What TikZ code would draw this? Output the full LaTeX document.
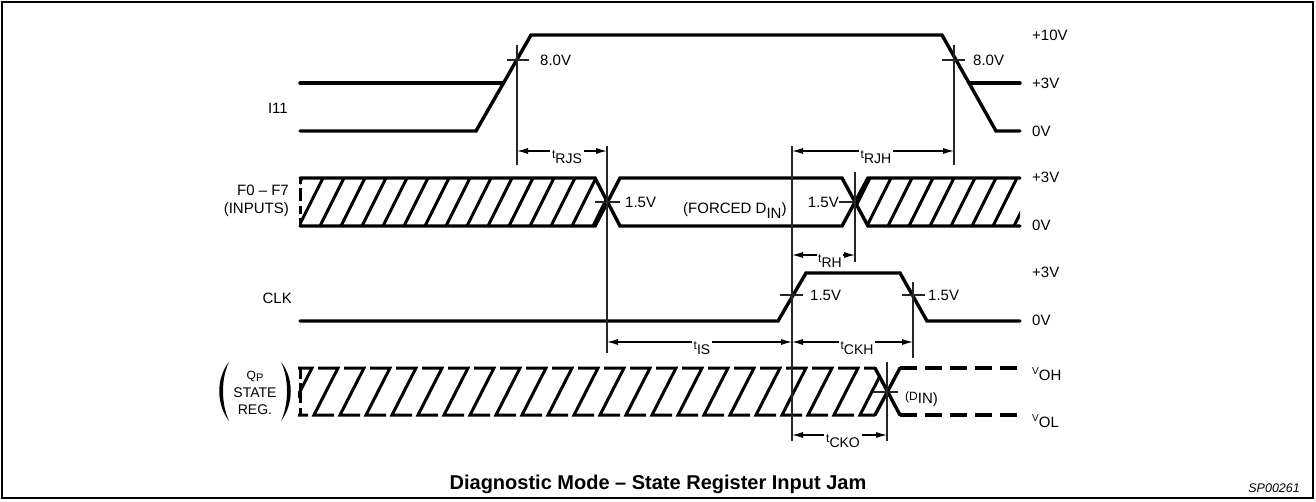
\documentclass[tikz,border=0pt]{standalone}
\usepackage{fontspec}
\setmainfont{Liberation Sans}
\usetikzlibrary{arrows.meta}
\newcommand{\tlab}[1]{{\fontsize{12}{12}\selectfont t}\raisebox{-4.5pt}{#1}}
\newcommand{\vlab}[1]{{\fontsize{10}{10}\selectfont\raisebox{6pt}{V}}#1}
\begin{document}
\begin{tikzpicture}[x=1pt,y=-1pt,
  sig/.style={line width=3.4pt,line cap=round,line join=miter},
  dsig/.style={line width=3.4pt,line cap=butt,dash pattern=on 17pt off 8pt},
  hatchln/.style={line width=3pt,line cap=butt,line join=miter},
  guide/.style={line width=1.1pt,black!85},
  dimarr/.style={line width=1.1pt,-{Latex[length=11pt,width=6pt]}},
  lbl/.style={font=\fontsize{15}{18.5}\selectfont,inner sep=0pt},
  tlbl/.style={font=\fontsize{14}{14}\selectfont,inner sep=1.5pt},
  vlbl/.style={lbl,anchor=west}]
\useasboundingbox (0,0) rectangle (1316,501);
\draw[line width=1.5pt] (2,2) rectangle (1313,498);

% ---------- I11 ----------
\draw[sig] (300,83) -- (503.5,83);
\draw[sig] (300,131) -- (476,131) -- (531,35) -- (942,35) -- (996,131) -- (1020,131);
\draw[sig] (969,83) -- (1020,83);
\node[lbl,anchor=east] (i11) at (288,108) {I11};
\draw[guide] (507,60) -- (529,60);
\draw[guide] (942,60) -- (965,60);
\node[vlbl] (v8a) at (540,60) {8.0V};
\node[vlbl] (v8b) at (973,60) {8.0V};
\node[vlbl] (p10) at (1032,35) {+10V};
\node[vlbl] (p3a) at (1032,83) {+3V};
\node[vlbl] (z0a) at (1032,131) {0V};

% ---------- F0-F7 ----------
\begin{scope}
  \clip (300,178) -- (595,178) -- (607.5,202) -- (595,226) -- (300,226) -- cycle;
  \foreach \k in {0,...,15} \draw[hatchln] ({278+21*\k},226) -- ++(24,-48);
\end{scope}
\begin{scope}
  \clip (855.5,202) -- (868,178) -- (1020,178) -- (1020,226) -- (868,226) -- cycle;
  \foreach \k in {0,...,8} \draw[hatchln] ({846+21*\k},226) -- ++(24,-48);
\end{scope}
\draw[sig] (300,178) -- (595,178) -- (620,226) -- (842,226) -- (868,178) -- (1020,178);
\draw[sig] (300,226) -- (595,226) -- (620,178) -- (842,178) -- (868,226) -- (1020,226);
\draw[hatchln] (300,177) -- (300,184) (300,188) -- (300,201) (300,206) -- (300,214) (300,218) -- (300,227);
\node[lbl,anchor=east,align=right] (flab) at (289,201) {F0 – F7\\(INPUTS)};
\draw[guide] (595,202) -- (620,202);
\node[vlbl] (v15a) at (625,202) {1.5V};
\node[lbl,anchor=east] (v15b) at (839,202) {1.5V};
\draw[guide] (v15b.east) -- (856,202);
\node[lbl,anchor=base west] (forced) at (683,213) {(FORCED D\raisebox{-5pt}{IN})};
\node[vlbl] (p3b) at (1032,177) {+3V};
\node[vlbl] (z0b) at (1032,225) {0V};

% ---------- CLK ----------
\draw[sig] (300,321) -- (778,321) -- (806,273) -- (900,273) -- (927,321) -- (1020,321);
\node[lbl,anchor=east] (clk) at (292,298) {CLK};
\draw[guide] (780,295) -- (803,295);
\draw[guide] (902,295) -- (925,295);
\node[vlbl] (v15c) at (810,295) {1.5V};
\node[vlbl] (v15d) at (928,295) {1.5V};
\node[vlbl] (p3c) at (1032,272) {+3V};
\node[vlbl] (z0c) at (1032,320) {0V};

% ---------- Qp ----------
\begin{scope}
  \clip (298,366) -- (874,366) -- (887.5,391.5) -- (874,417) -- (298,417) -- cycle;
  \foreach \k in {0,...,23} {
    \pgfmathsetmacro\xt{312+26*\k}
    \draw[hatchln] (\xt-20,368) -- (\xt,368) -- (\xt-24,415) -- (\xt-4,415);
  }
\end{scope}
\draw[hatchln] (300,367) -- (300,379) (300,383) -- (300,403) (300,408) -- (300,416);
\draw[sig] (875,368) -- (900,415);
\draw[sig] (875,415) -- (900,368);
\draw[dsig] (900,368) -- (1020,368);
\draw[dsig] (900,415) -- (1020,415);
\draw[guide] (873,392) -- (898,392);
\node[lbl,anchor=base west] (din) at (905,400) {{\fontsize{12}{12}\selectfont(D}\raisebox{-3pt}{IN)}};
\node[vlbl,anchor=base west] (voh) at (1032,380) {\vlab{OH}};
\node[vlbl,anchor=base west] (vol) at (1032,427) {\vlab{OL}};
\node[inner sep=0pt,align=center,font=\fontsize{14}{17.5}\selectfont] (qlab) at (255,393)
  {{\fontsize{12}{12}\selectfont Q\raisebox{-2pt}{\fontsize{11}{11}\selectfont P}}\\STATE\\REG.};
% parentheses round the Qp label
\fill (229,362) .. controls (216,378) and (216,404) .. (229,421)
      .. controls (221,404) and (221,378) .. (229,362) -- cycle;
\fill (281,362) .. controls (294,378) and (294,404) .. (281,421)
      .. controls (289,404) and (289,378) .. (281,362) -- cycle;

% ---------- guides ----------
\draw[guide] (517,45) -- (517,165);
\draw[guide] (954,45) -- (954,165);
\draw[guide] (607,146) -- (607,353);
\draw[guide] (792,146) -- (792,441);
\draw[guide] (855,172) -- (855,262);
\draw[guide] (913,282) -- (913,358);
\draw[guide] (887,362) -- (887,441);

% ---------- dimensions ----------
\coordinate (rjsL) at (517,151); \coordinate (rjsR) at (607,151);
\coordinate (rjhL) at (792,151); \coordinate (rjhR) at (954,151);
\coordinate (rhL) at (792,255);  \coordinate (rhR) at (855,255);
\coordinate (isL) at (607,342);  \coordinate (isR) at (792,342);
\coordinate (ckhL) at (792,342); \coordinate (ckhR) at (913,342);
\coordinate (ckoL) at (792,435); \coordinate (ckoR) at (887,435);
\node[tlbl] (tRJS) at (567,157) {\tlab{RJS}};
\node[tlbl] (tRJH) at (876,157) {\tlab{RJH}};
\node[tlbl] (tRH) at (830,261) {\tlab{RH}};
\node[tlbl] (tIS) at (702,348) {\tlab{IS}};
\node[tlbl] (tCKH) at (857,348) {\tlab{CKH}};
\node[tlbl] (tCKO) at (843,441) {\tlab{CKO}};
\draw[dimarr] (tRJS.west |- rjsL) -- (rjsL);
\draw[dimarr] (tRJS.east |- rjsR) -- (rjsR);
\draw[dimarr] (tRJH.west |- rjhL) -- (rjhL);
\draw[dimarr] (tRJH.east |- rjhR) -- (rjhR);
\draw[dimarr] (tRH.west |- rhL) -- (rhL);
\draw[dimarr] (tRH.east |- rhR) -- (rhR);
\draw[dimarr] (tIS.west |- isL) -- (isL);
\draw[dimarr] (tIS.east |- isR) -- (isR);
\draw[dimarr] (tCKH.west |- ckhL) -- (ckhL);
\draw[dimarr] (tCKH.east |- ckhR) -- (ckhR);
\draw[dimarr] (tCKO.west |- ckoL) -- (ckoL);
\draw[dimarr] (tCKO.east |- ckoR) -- (ckoR);

% ---------- captions ----------
\node[inner sep=0pt,anchor=base,font=\bfseries\fontsize{20}{20}\selectfont] (title) at (658,489) {Diagnostic Mode – State Register Input Jam};
\node[inner sep=0pt,anchor=base east,font=\itshape\fontsize{12.5}{12.5}\selectfont] (code) at (1300,492) {SP00261};
\end{tikzpicture}
\end{document}
